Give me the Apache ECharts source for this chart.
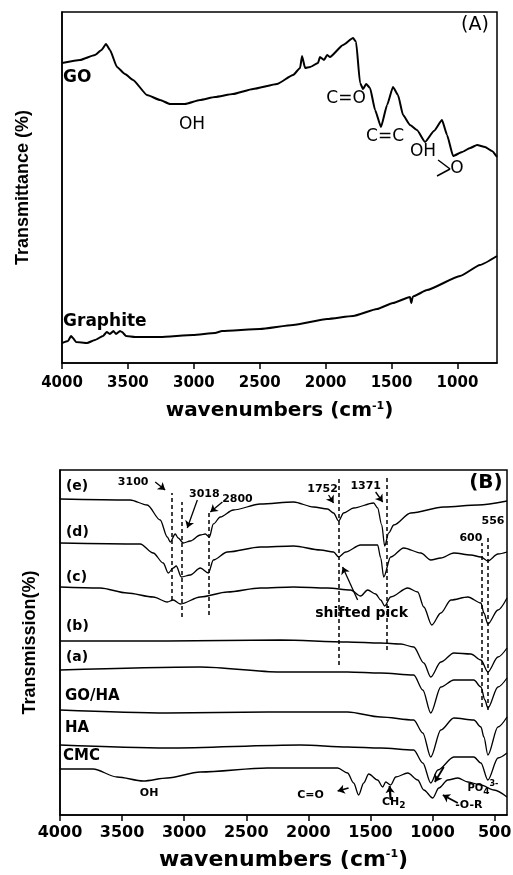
<!DOCTYPE html>
<html><head><meta charset="utf-8">
<script src="https://cdn.jsdelivr.net/npm/echarts@6/dist/echarts.min.js"></script>
<style>html,body{margin:0;padding:0;background:#fff}#c{width:513px;height:875px}</style>
</head><body><div id="c"></div>
<script>
// ---------- tick labels ----------
const ticksA = [4000, 3500, 3000, 2500, 2000, 1500, 1000];
const ticksB = [4000, 3500, 3000, 2500, 2000, 1500, 1000, 500];

// ---------- panel A spectra [wavenumber, transmittance (a.u.)] ----------
const goCurve = [[4000,300],[3863,303],[3750,308],[3700,313],[3666,319],[3636,313],[3583,296],[3522,289],[3461,283],[3355,268],[3256,263],[3181,259],[3067,259],[2953,263],[2839,266],[2703,269],[2551,274],[2369,279],[2247,288],[2194,295],[2179,307],[2156,295],[2118,296],[2058,300],[2043,306],[2012,303],[1989,308],[1967,306],[1868,318],[1792,325],[1769,321],[1739,280],[1716,274],[1693,279],[1663,275],[1625,253],[1580,236],[1534,258],[1489,276],[1451,268],[1413,248],[1360,238],[1307,233],[1246,221],[1178,232],[1117,243],[1079,228],[1033,207],[965,211],[904,215],[851,218],[791,216],[738,212],[700,206]];
const graphiteCurve = [[4000,20],[3954,22],[3932,27],[3917,25],[3894,21],[3810,20],[3750,23],[3689,27],[3660,31],[3636,29],[3610,32],[3590,29],[3560,32],[3545,31],[3514,27],[3446,26],[3256,26],[3006,28],[2839,30],[2786,32],[2498,34],[2247,38],[1989,44],[1792,47],[1610,54],[1489,60],[1360,66],[1350,60],[1340,66],[1329,67],[1231,73],[980,87],[829,98],[700,107]];

// ---------- panel B spectra ----------
const eCurve = [[4000,316],[3435,315],[3298,310],[3193,295],[3136,278],[3112,273],[3072,281],[3048,277],[3007,272],[2951,274],[2870,280],[2830,281],[2797,278],[2765,291],[2709,298],[2604,305],[2386,311],[2119,313],[1958,308],[1845,306],[1797,302],[1756,294],[1716,302],[1635,307],[1474,312],[1442,307],[1409,290],[1385,269],[1353,282],[1312,290],[1175,302],[909,308],[634,310],[400,314]];
const dCurve = [[4000,272],[3354,271],[3249,262],[3169,252],[3128,242],[3088,247],[3064,249],[3023,238],[2951,240],[2870,247],[2805,242],[2765,255],[2652,263],[2386,268],[2119,269],[1902,265],[1797,263],[1756,258],[1700,263],[1579,270],[1442,270],[1417,257],[1393,238],[1337,258],[1232,267],[1094,262],[1014,255],[933,257],[828,262],[691,260],[610,258],[554,254],[473,261],[400,263]];
const cCurve = [[4000,228],[3677,227],[3459,222],[3249,218],[3136,213],[3088,215],[3031,211],[2870,218],[2652,223],[2386,227],[2119,228],[1845,227],[1660,225],[1579,219],[1522,225],[1458,221],[1417,215],[1385,209],[1337,218],[1199,227],[1119,223],[1070,208],[1006,190],[933,202],[852,215],[715,218],[610,212],[586,202],[554,191],[473,205],[400,217]];
const bCurve = [[4000,174],[3136,174],[2224,175],[1684,173],[1417,172],[1256,171],[1151,168],[1070,152],[1014,138],[933,153],[828,162],[691,161],[610,155],[554,143],[473,158],[400,167]];
const aCurve = [[4000,145],[2870,148],[2224,143],[1684,143],[1417,142],[1151,140],[1078,125],[1014,102],[933,128],[828,135],[667,135],[610,128],[578,115],[554,107],[473,128],[400,137]];
const goHaCurve = [[4000,105],[3136,102],[2329,103],[1684,103],[1417,98],[1151,95],[1078,82],[1014,58],[933,85],[828,97],[667,95],[610,88],[586,78],[554,60],[473,88],[400,98]];
const haCurve = [[4000,70],[3136,67],[2063,70],[1684,68],[1417,67],[1151,65],[1078,52],[1014,32],[957,45],[828,58],[667,58],[610,52],[554,35],[473,57],[400,62]];
const cmcCurve = [[4000,46],[3734,46],[3540,38],[3330,34],[3136,37],[2870,43],[2329,47],[1764,47],[1684,42],[1635,32],[1595,20],[1554,32],[1514,41],[1442,35],[1401,28],[1377,33],[1337,30],[1296,38],[1199,42],[1119,35],[1070,25],[998,17],[949,27],[877,35],[796,37],[715,33],[610,30],[505,25],[400,18]];

// marked band positions (dashed guides) in panel B
const markedBands = [3100, 3018, 2800, 1752, 1371, 600, 556];
const bandSpans = [[215,322],[198,313],[200,305],[150,338],[165,337],[108,272],[105,280]];

// ---------- helpers ----------
function ann(wn, y, text, opt) {
  opt = opt || {};
  return {
    coord: [wn, y], symbol: 'circle', symbolSize: 0,
    itemStyle: {color: 'rgba(0,0,0,0)'},
    label: Object.assign({
      show: true, position: opt.left ? 'right' : 'inside', distance: 0,
      formatter: () => text, color: '#000',
      fontFamily: 'DejaVu Sans', fontSize: 14, fontWeight: 'bold'
    }, opt.style || {})
  };
}
function seg(p1, p2, arrow, width) {
  return [
    {coord: p1, symbol: 'none', lineStyle: {type: 'solid', width: width || 1.3, color: '#000'}},
    {coord: p2, symbol: arrow ? 'arrow' : 'none', symbolSize: arrow ? 7 : 0}
  ];
}
const richSub = {sub: {fontSize: 9, fontFamily: 'DejaVu Sans', fontWeight: 'bold', verticalAlign: 'bottom', padding: [8, 0, 0, 0]},
                 sup: {fontSize: 8, fontFamily: 'DejaVu Sans', fontWeight: 'bold', verticalAlign: 'top', padding: [0, 0, 8, 0]}};

const axisFont = {fontFamily: 'DejaVu Sans', fontWeight: 'bold', color: '#000'};

function xAxisCfg(gi, min, ticks, fs, margin, gap, nfs) {
  return {
    gridIndex: gi, type: 'value', inverse: true, min: min, max: 4000,
    axisLine: {show: true, onZero: false, lineStyle: {color: '#000', width: 1.5}},
    axisTick: {show: true, inside: false, length: 6, customValues: ticks, lineStyle: {color: '#000', width: 1.5}},
    axisLabel: Object.assign({customValues: ticks, margin: margin, fontSize: fs, formatter: v => String(v),
      showMinLabel: true, showMaxLabel: true, hideOverlap: false}, axisFont),
    splitLine: {show: false},
    name: 'wavenumbers (cm{sup|-1})', nameLocation: 'middle', nameGap: gap,
    nameTextStyle: Object.assign({fontSize: nfs, rich: {sup: {fontSize: 11, fontFamily: 'DejaVu Sans', fontWeight: 'bold', verticalAlign: 'top', lineHeight: 12}}}, axisFont)
  };
}
function yAxisCfg(gi, max, name, gap) {
  return {
    gridIndex: gi, type: 'value', min: 0, max: max,
    axisLine: {show: true, onZero: false, lineStyle: {color: '#000', width: 1.5}},
    axisTick: {show: false}, axisLabel: {show: false}, splitLine: {show: false},
    name: name, nameLocation: 'middle', nameGap: gap,
    nameTextStyle: {fontFamily: 'Liberation Sans', fontWeight: 'bold', fontSize: 18, color: '#000'}
  };
}
function lineSeries(name, data, gi, w, extra) {
  return Object.assign({
    name: name, type: 'line', xAxisIndex: gi, yAxisIndex: gi, data: data,
    showSymbol: false, symbol: 'none', smooth: gi === 1 ? 0.3 : 0.15, smoothMonotone: 'x', silent: true,
    lineStyle: {color: '#000', width: w}
  }, extra || {});
}

// ---------- annotations ----------
const txtA = {fontFamily: 'DejaVu Sans', fontWeight: 'normal', fontSize: 17};
const annotationsA = [
  ann(3992, 285, 'GO', {left: true, style: {fontSize: 17}}),
  ann(3992, 41, 'Graphite', {left: true, style: {fontSize: 17}}),
  ann(3014, 238, 'OH', {style: txtA}),
  ann(1845, 264, 'C=O', {style: txtA}),
  ann(1549, 226, 'C=C', {style: txtA}),
  ann(1261, 211, 'OH', {style: txtA}),
  ann(1003, 194, 'O', {style: txtA}),
  ann(867, 338, '(A)', {style: {fontFamily: 'DejaVu Sans', fontWeight: 'normal', fontSize: 19}})
];
const linesA = [
  seg([1147, 203], [1056, 194], false, 1.5),
  seg([1155, 187], [1056, 194], false, 1.5)
];

const small = {fontSize: 11};
const annotationsB = [
  ann(3952, 329, '(e)', {left: true}),
  ann(3952, 283, '(d)', {left: true}),
  ann(3952, 238, '(c)', {left: true}),
  ann(3952, 189, '(b)', {left: true}),
  ann(3952, 158, '(a)', {left: true}),
  ann(3960, 119, 'GO/HA', {left: true, style: {fontSize: 15}}),
  ann(3960, 87, 'HA', {left: true, style: {fontSize: 15}}),
  ann(3975, 59, 'CMC', {left: true, style: {fontSize: 15}}),
  ann(570, 332, '(B)', {style: {fontSize: 20}}),
  ann(3411, 333, '3100', {style: small}),
  ann(2838, 321, '3018', {style: small}),
  ann(2571, 316, '2800', {style: small}),
  ann(1885, 326, '1752', {style: small}),
  ann(1538, 329, '1371', {style: small}),
  ann(691, 277, '600', {style: small}),
  ann(513, 294, '556', {style: small}),
  ann(1571, 202, 'shifted pick', {style: {fontSize: 14}}),
  ann(3282, 22, 'OH', {style: small}),
  ann(1982, 20, 'C=O', {style: small}),
  ann(1312, 13, 'CH{sub|2}', {style: Object.assign({rich: richSub}, small)}),
  ann(707, 10, '-O-R', {style: small}),
  ann(594, 27, 'PO{sub|4}{sup|3-}', {style: Object.assign({rich: richSub}, {fontSize: 10})})
];
const linesB = markedBands.map((wn, i) => [
  {coord: [wn, bandSpans[i][0]], symbol: 'none', lineStyle: {type: [4, 3], width: 1.5, color: '#000'}},
  {coord: [wn, bandSpans[i][1]], symbol: 'none'}
]).concat([
  seg([3233, 333], [3153, 325], true),
  seg([2894, 315], [2975, 287], true),
  seg([2692, 313], [2789, 303], true),
  seg([1837, 320], [1797, 312], true),
  seg([1458, 323], [1401, 313], true),
  seg([1603, 215], [1724, 248], true),
  seg([1676, 27], [1764, 24], true, 1.8),
  seg([1337, 15], [1345, 29], true, 2.2),
  seg([796, 12], [917, 20], true, 1.8),
  seg([909, 48], [981, 33], true, 1.8)
]);

// ---------- chart ----------
const chart = echarts.init(document.getElementById('c'), null, {renderer: 'canvas'});
chart.setOption({
  animation: false,
  backgroundColor: '#fff',
  grid: [
    {left: 62, right: 16, top: 12, height: 351, show: true, borderColor: '#000', borderWidth: 1.5,
     containLabel: false, outerBoundsMode: 'none'},
    {left: 60, right: 6, top: 470, height: 345, show: true, borderColor: '#000', borderWidth: 1.5,
     containLabel: false, outerBoundsMode: 'none'}
  ],
  xAxis: [
    xAxisCfg(0, 700, ticksA, 15, 13, 38, 20),
    xAxisCfg(1, 400, ticksB, 16, 10, 34, 22)
  ],
  yAxis: [
    yAxisCfg(0, 351, 'Transmittance (%)', 30),
    yAxisCfg(1, 345, 'Transmission(%)', 21)
  ],
  series: [
    lineSeries('GO', goCurve, 0, 2, {
      markPoint: {silent: true, data: annotationsA},
      markLine: {silent: true, symbol: ['none', 'none'], label: {show: false}, data: linesA}
    }),
    lineSeries('Graphite', graphiteCurve, 0, 2),
    lineSeries('(e)', eCurve, 1, 1.3, {
      markPoint: {silent: true, data: annotationsB},
      markLine: {silent: true, symbol: ['none', 'none'], label: {show: false}, data: linesB}
    }),
    lineSeries('(d)', dCurve, 1, 1.3),
    lineSeries('(c)', cCurve, 1, 1.3),
    lineSeries('(b)', bCurve, 1, 1.3),
    lineSeries('(a)', aCurve, 1, 1.3),
    lineSeries('GO/HA', goHaCurve, 1, 1.3),
    lineSeries('HA', haCurve, 1, 1.3),
    lineSeries('CMC', cmcCurve, 1, 1.3)
  ]
});
</script>
</body></html>
